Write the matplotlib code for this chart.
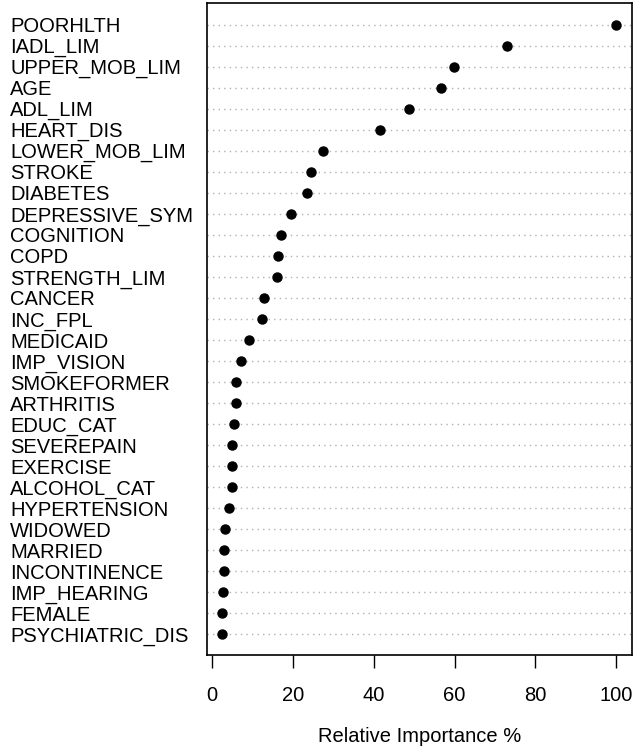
import numpy as np
from matplotlib import pyplot as plt

variables = ["POORHLTH", "IADL_LIM", "UPPER_MOB_LIM", "AGE", "ADL_LIM",
             "HEART_DIS", "LOWER_MOB_LIM", "STROKE", "DIABETES", "DEPRESSIVE_SYM",
             "COGNITION", "COPD", "STRENGTH_LIM", "CANCER", "INC_FPL",
             "MEDICAID", "IMP_VISION", "SMOKEFORMER", "ARTHRITIS", "EDUC_CAT",
             "SEVEREPAIN", "EXERCISE", "ALCOHOL_CAT", "HYPERTENSION", "WIDOWED",
             "MARRIED", "INCONTINENCE", "IMP_HEARING", "FEMALE", "PSYCHIATRIC_DIS"]
importance = [100.0, 72.9, 59.9, 56.6, 48.7,
              41.6, 27.4, 24.4, 23.4, 19.5,
              16.9, 16.2, 16.1, 12.9, 12.2,
              9.1, 7.0, 6.0, 5.9, 5.5,
              5.0, 4.9, 4.8, 4.2, 3.2,
              3.0, 2.9, 2.6, 2.5, 2.5]
xticks = [0, 20, 40, 60, 80, 100]

plt.rcParams['font.family'] = ['Liberation Sans', 'DejaVu Sans']

n = len(variables)
ypos = n - np.arange(n)

fig = plt.figure(figsize=(6.34, 7.5), dpi=100)
ax = fig.add_axes([207 / 634, 95 / 750, 425 / 634, 652 / 750])

# dotted guide lines, like R dotchart
for y in ypos:
    ax.axhline(y, color="#b0b0b0", linestyle=(0, (1, 3)), linewidth=1.0, zorder=1)

ax.plot(importance, ypos, "o", color="black", markersize=6.5, zorder=3)

ax.set_xlim(-1.3, 103.9)
ax.set_ylim(0.02, n + 1.03)

ax.set_yticks(ypos)
ax.set_yticklabels(variables, fontsize=14.5, ha="left")
ax.tick_params(axis="y", length=0, pad=141.8)

ax.set_xticks(xticks)
ax.set_xticklabels([str(t) for t in xticks], fontsize=14.5)
ax.tick_params(axis="x", direction="out", length=9, width=1, pad=13)
ax.set_xlabel("Relative Importance %", fontsize=14.5, labelpad=16)

for s in ax.spines.values():
    s.set_linewidth(1.2)

fig.savefig("out.png", dpi=100)
